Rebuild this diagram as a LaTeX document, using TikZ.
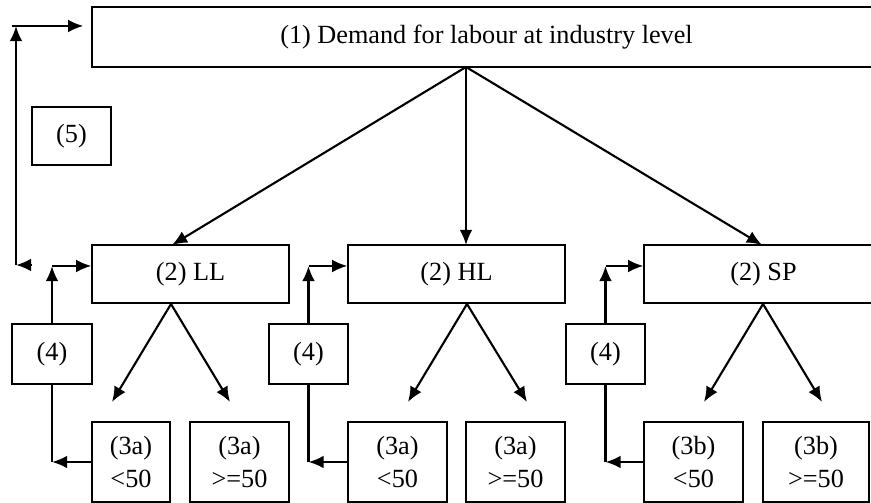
\documentclass[tikz,border=0pt]{standalone}
\usepackage{fontspec}
\setmainfont{Liberation Serif}
\usetikzlibrary{calc,arrows.meta}
\tikzset{
	blk/.style n args={2}{draw, line width=0.6pt, inner sep=0pt, minimum width=#1cm, minimum height=#2cm, align=center},
	arr/.style={-{Latex[length=6.5pt,width=5.5pt]}, line width=0.9pt},
	ln/.style={line width=0.9pt}
}
\begin{document}
\begin{tikzpicture}[x=0.015cm, y=-0.015cm, font=\fontsize{11.2}{14}\selectfont]
			\useasboundingbox (0,0) rectangle (871,503);
			\node[blk={11.835}{0.9}] (dem) at (486.5,37) {(1) Demand for labour at industry level};
			\node[blk={1.185}{0.87}] (five) at (71.5,136) {(5)};
			\node[blk={2.955}{0.87}] (ll) at (190.5,274) {(2) LL};
			\node[blk={3.255}{0.87}] (hl) at (456.5,274) {(2) HL};
			\node[blk={3.585}{0.87}] (sp) at (763.5,274) {(2) SP};
			\node[blk={1.2}{0.9}] (fa) at (52,354) {(4)};
			\node[blk={1.185}{0.9}] (fb) at (308.5,354) {(4)};
			\node[blk={1.185}{0.9}] (fc) at (605.5,354) {(4)};
			\node[blk={1.17}{1.2}] (lla) at (131,462) {(3a)\\<50};
			\node[blk={1.485}{1.2}] (llb) at (239.5,462) {(3a)\\>=50};
			\node[blk={1.485}{1.2}] (hla) at (397.5,462) {(3a)\\<50};
			\node[blk={1.485}{1.2}] (hlb) at (515.5,462) {(3a)\\>=50};
			\node[blk={1.485}{1.2}] (spa) at (693.5,462) {(3b)\\<50};
			\node[blk={1.59}{1.2}] (spb) at (816,462) {(3b)\\>=50};
			\coordinate (T) at (466,67);
			\draw[arr] (T) -- (172,245);
			\draw[arr] (T) -- (466,245);
			\draw[arr] (T) -- (762,245);
			\coordinate (L) at (171,304);
			\coordinate (H) at (467,304);
			\coordinate (S) at (763,304);
			\draw[arr] (L) -- (112,402);
			\draw[arr] (L) -- (230,402);
			\draw[arr] (H) -- (408,402);
			\draw[arr] (H) -- (527,402);
			\draw[arr] (S) -- (704,402);
			\draw[arr] (S) -- (822,402);
			\coordinate (Ltop) at (52,266);
			\coordinate (Lbot) at (52,462);
			\coordinate (Htop) at (308.5,266);
			\coordinate (Hbot) at (308.5,462);
			\coordinate (Stop) at (605.5,266);
			\coordinate (Sbot) at (605.5,462);
			\draw[arr] (lla.west) -- (Lbot);
			\draw[ln] (Lbot) -- (fa.south);
			\draw[arr] (fa.north) -- (Ltop);
			\draw[arr] (Ltop) -- (ll.west |- Ltop);
			\draw[arr] (hla.west) -- (Hbot);
			\draw[ln] (Hbot) -- (fb.south);
			\draw[arr] (fb.north) -- (Htop);
			\draw[arr] (Htop) -- (hl.west |- Htop);
			\draw[arr] (spa.west) -- (Sbot);
			\draw[ln] (Sbot) -- (fc.south);
			\draw[arr] (fc.north) -- (Stop);
			\draw[arr] (Stop) -- (sp.west |- Stop);
			\coordinate (A) at (16,265);
			\coordinate (B) at (16,26);
			\draw[arr] (32,265) -- (A);
			\draw[arr] (A) -- (B);
			\draw[arr] (12,26) -- ($(dem.west |- B)+(-8,0)$);
		\end{tikzpicture}
\end{document}
